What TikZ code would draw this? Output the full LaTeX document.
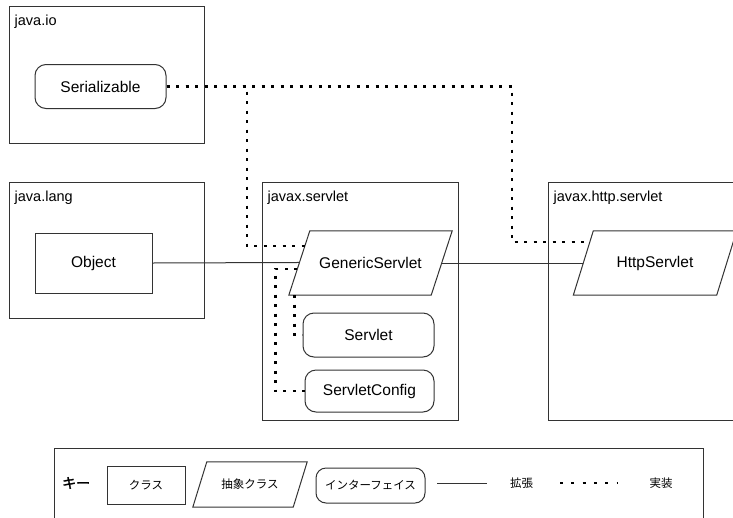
\documentclass[tikz,border=0pt]{standalone}
\usepackage{fontspec}
\setmainfont{Liberation Sans}
\newfontfamily\jp{Noto Sans CJK JP}
\newfontfamily\jpb{Noto Sans CJK JP}[FakeBold=2]
\usetikzlibrary{calc}
\tikzset{
  pkg/.style={draw=black!80, line width=1pt, inner sep=0pt},
  pkglbl/.style={font=\fontsize{14.5}{16}\selectfont, inner sep=0pt},
  cls/.style={draw=black!80, line width=1pt, font=\fontsize{15.5}{18}\selectfont, inner sep=0pt},
  iface/.style={cls, rounded corners=11pt},
  absnode/.style={font=\fontsize{15.5}{18}\selectfont, inner sep=0pt},
  outline/.style={draw=black!80, line width=1pt},
  ext/.style={draw=black!80, line width=1pt},
  impl/.style={draw=black, line width=2.6pt, dash pattern=on 3pt off 6.5pt},
  keyfont/.style={font=\jp\fontsize{11.5}{13}\selectfont},
  keytxt/.style={keyfont, inner sep=0pt},
}
\begin{document}
\begin{tikzpicture}[x=1pt,y=-1pt]
\useasboundingbox (0,0) rectangle (733,517);
\clip (0,0) rectangle (733,517);
\fill[white] (0,0) rectangle (733,517);

% packages
\node[pkg, minimum width=195pt, minimum height=137pt, anchor=north west] (io) at (9,6) {};
\node[pkglbl, anchor=base west] (iol) at ([shift={(5.5pt,-19pt)}]io.north west) {java.io};
\node[pkg, minimum width=195pt, minimum height=136pt, anchor=north west] (lang) at (9,182) {};
\node[pkglbl, anchor=base west] (langl) at ([shift={(5.5pt,-19pt)}]lang.north west) {java.lang};
\node[pkg, minimum width=196pt, minimum height=238pt, anchor=north west] (jsv) at (262,182) {};
\node[pkglbl, anchor=base west] (jsvl) at ([shift={(5.5pt,-19pt)}]jsv.north west) {javax.servlet};
\node[pkg, minimum width=230pt, minimum height=238pt, anchor=north west] (jhs) at (548,182) {};
\node[pkglbl, anchor=base west] (jhsl) at ([shift={(5.5pt,-19pt)}]jhs.north west) {javax.http.servlet};

% classes
\node[iface, minimum width=131pt, minimum height=44pt] (ser) at (100.5,86.5) {Serializable};
\node[cls, minimum width=117pt, minimum height=60pt] (obj) at (93.5,263) {Object};
\node[absnode, minimum width=163pt, minimum height=64pt] (gs) at (370.5,263) {GenericServlet};
\draw[outline] ($(gs.south east)+(-21pt,0)$) -- coordinate[pos=0.958] (gs-b) (gs.south west)
  -- coordinate[pos=0.406] (gs-c) coordinate[pos=0.508] (gs-m) coordinate[pos=0.766] (gs-a) ($(gs.north west)+(21pt,0)$)
  -- (gs.north east) -- coordinate[pos=0.5] (gs-r) ($(gs.south east)+(-21pt,0)$) -- cycle;
\node[absnode, minimum width=163pt, minimum height=64pt] (hs) at (655,263) {HttpServlet};
\draw[outline] ($(hs.south east)+(-20pt,0)$) -- (hs.south west)
  -- coordinate[pos=0.5] (hs-m) coordinate[pos=0.828] (hs-a) ($(hs.north west)+(20pt,0)$)
  -- (hs.north east) -- ($(hs.south east)+(-20pt,0)$) -- cycle;
\node[iface, minimum width=131pt, minimum height=44pt] (sv) at (368.5,335) {Servlet};
\node[iface, minimum width=129pt, minimum height=42pt] (sc) at (369.5,391) {ServletConfig};

% connectors
\draw[ext] (obj.east) -- (gs-m);
\draw[ext] (gs-r) -- (hs-m);
\draw[impl] (ser.east) -| ($(gs-a)+(-58pt,0)$) -- (gs-a);
\draw[impl] (ser.east) -| ($(hs-a)+(-78pt,0)$) -- (hs-a);
\draw[impl] (gs-b) |- (sv.west);
\draw[impl] (gs-c) -- ++(-22,0) |- (sc.west);

% legend
\node[pkg, minimum width=649pt, minimum height=100pt, anchor=north west] (key) at (54,448) {};
\node[inner sep=0pt, anchor=west, font=\jpb\fontsize{14}{16}\selectfont] (keyl) at (62,483) {キー};
\node[cls, keyfont, minimum width=78pt, minimum height=38pt] (kc) at (146,485) {クラス};
\node[keytxt, minimum width=114pt, minimum height=45pt] (ka) at (250,484.5) {抽象クラス};
\draw[outline] ($(ka.south east)+(-14pt,0)$) -- (ka.south west) -- ($(ka.north west)+(14pt,0)$)
  -- (ka.north east) -- ($(ka.south east)+(-14pt,0)$) -- cycle;
\node[cls, keyfont, rounded corners=10pt, minimum width=109pt, minimum height=35pt] (ki) at (370.5,485.5) {インターフェイス};
\coordinate (e1) at (437,483);
\coordinate (e2) at (487,483);
\draw[ext] (e1) -- (e2);
\node[keytxt] (kext) at (521.5,483) {拡張};
\coordinate (i1) at (560,483);
\coordinate (i2) at (617,483);
\draw[impl, dash pattern=on 3pt off 8.3pt] (i1) -- (i2);
\node[keytxt] (kimpl) at (661,483) {実装};
\end{tikzpicture}
\end{document}
